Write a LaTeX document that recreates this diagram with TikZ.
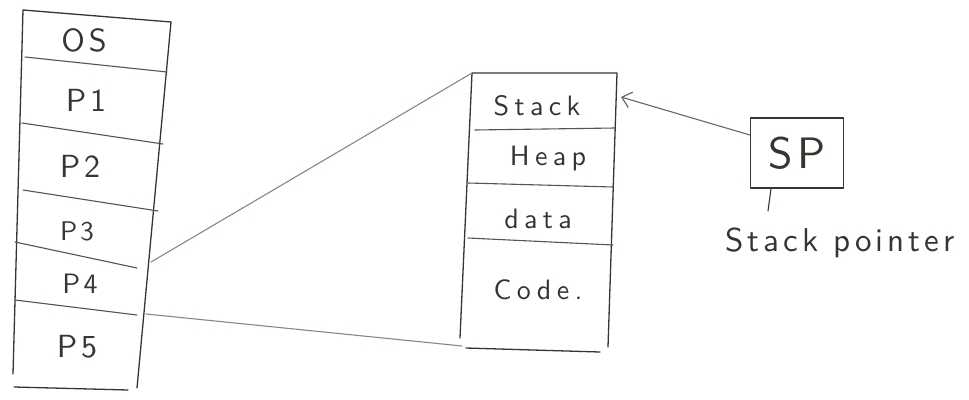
\documentclass[tikz,border=0pt]{standalone}
\usepackage{fontspec}
\usetikzlibrary{arrows.meta}
\definecolor{ink}{HTML}{3A3431}
\definecolor{pencil}{HTML}{8F8580}
% hand-lettered looking sans, spaced out a little
\newfontfamily\handwide{lmsans10-regular.otf}[LetterSpace=19]
\newfontfamily\handmid{lmsans10-regular.otf}[LetterSpace=12]
\tikzset{
  outline/.style={draw=ink, line width=1.3pt, line cap=round, line join=round},
  divider/.style={draw=ink!85, line width=1.1pt, line cap=round},
  link/.style={draw=pencil, line width=1.1pt, line cap=round},
  cell/.style={text=ink, inner sep=0pt, font=\fontsize{32}{32}\handmid},
  seg/.style={text=ink, inner sep=0pt, font=\fontsize{28}{28}\handwide},
}
\begin{document}
\begin{tikzpicture}[x=1pt,y=-1pt]
\useasboundingbox[fill=white] (0,0) rectangle (969,399);

% ---- memory column: OS and processes P1..P5 ----
\coordinate (mem-tl) at (23,10);
\coordinate (mem-tr) at (171,22);
\coordinate (mem-bl) at (13,374);
\coordinate (mem-br) at (137,388);
\draw[outline] (mem-tl) -- (mem-tr) -- (mem-br);
\draw[outline] (mem-tl) -- (mem-bl);
\draw[outline] (14,387) -- (128,390);
\draw[divider] (25,57) -- (167,72);
\draw[divider] (22,123) -- (163,144);
\draw[divider] (23,190) -- (158,211);
\draw[divider] (15,242) -- (137,268);
\draw[divider] (15,300) -- (137,315);

\node[cell] (os) at (84,40) {OS};
\node[cell] (p1) at (86,100) {P1};
\node[cell] (p2) at (80,166) {P2};
\node[cell, font=\fontsize{27}{27}\handmid] (p3) at (77,231) {P3};
\node[cell, font=\fontsize{28}{28}\handmid] (p4) at (80,284) {P4};
\node[cell] (p5) at (77,347) {P5};

% ---- layout of one process ----
\coordinate (proc-tl) at (472,73);
\coordinate (proc-tr) at (617,73);
\coordinate (proc-bl) at (460,338);
\coordinate (proc-br) at (608,347);
\draw[outline] (proc-bl) -- (proc-tl) -- (proc-tr) -- (proc-br);
\draw[outline] (466,348) -- (600,352);
\draw[divider] (475,130) -- (615,128);
\draw[divider] (468,183) -- (613,187);
\draw[divider] (468,238) -- (613,245);

\node[seg] (stack) at (537,106) {Stack};
\node[seg] (heap) at (548,158) {Heap};
\node[seg] (data) at (538,219) {data};
\node[seg] (code) at (538,290) {Code.};

% ---- P4 expanded into its layout ----
\coordinate (p4-top) at (151,262);
\coordinate (p4-bot) at (146,314);
\draw[link] (p4-top) -- (proc-tl);
\draw[link] (p4-bot) -- (462,346);

% ---- stack pointer ----
\node[outline, minimum width=93pt, minimum height=70pt, inner sep=0pt,
      text=ink, font=\fontsize{44}{44}\handmid] (sp) at (797,153) {SP};
\coordinate (stack-edge) at (621,97);
\draw[link, draw=ink!75, -{Straight Barb[length=9pt,width=16pt,line width=1.2pt]}]
  (sp.west |- 0,135) -- (stack-edge);
\coordinate (tick-end) at (768,211);
\draw[outline, line width=1.1pt] (sp.south -| 771,0) -- (tick-end);
\node[text=ink, inner sep=0pt, font=\fontsize{33}{33}\handmid] (sp-label) at (840,243) {Stack pointer};
\end{tikzpicture}
\end{document}
